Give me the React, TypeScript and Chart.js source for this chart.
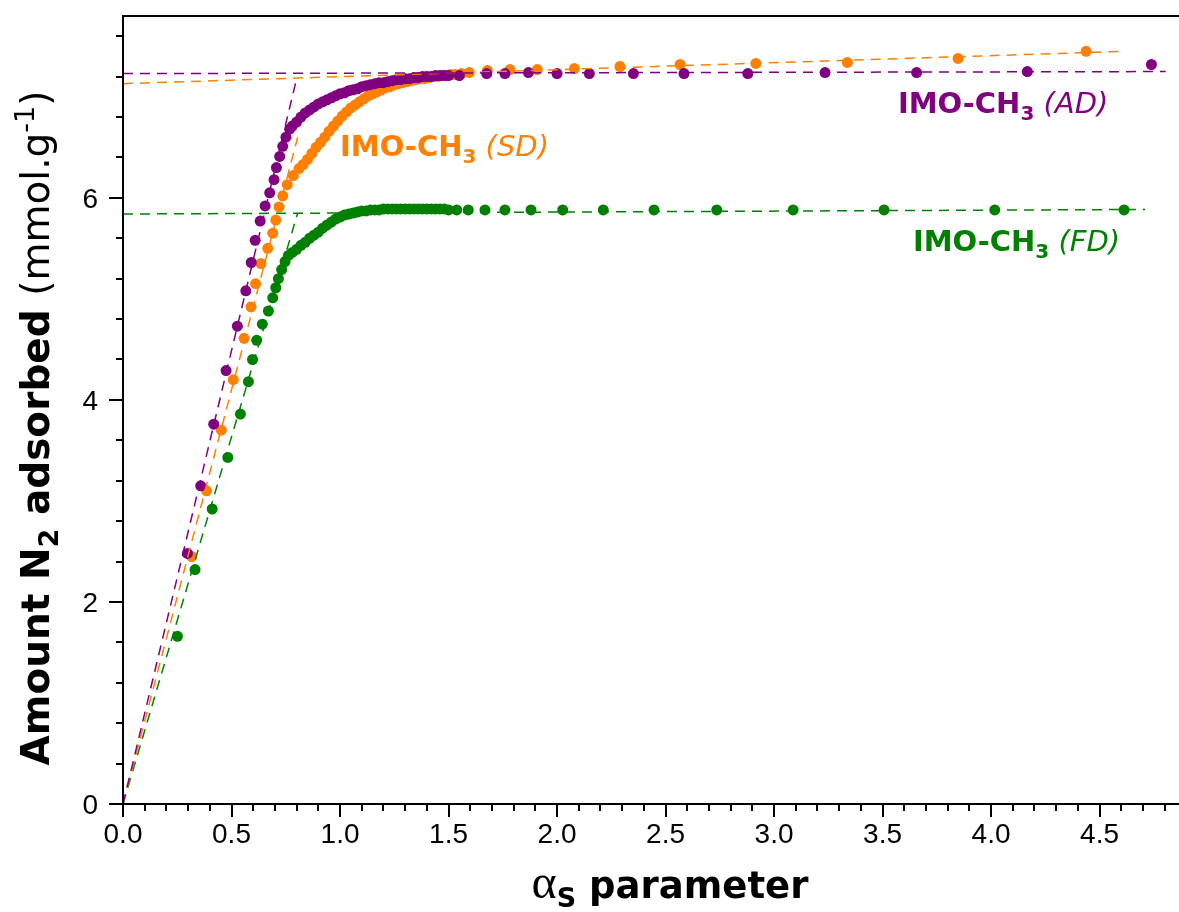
import React, { useEffect, useRef } from 'react';
import { Chart, registerables } from 'chart.js';

Chart.register(...registerables);

const PURPLE = '#800080';
const ORANGE = '#ff8000';
const GREEN = '#008000';

// IMO-CH3 (AD) – alpha_s plot points
const AD_X = [
  0.297, 0.358, 0.418, 0.475, 0.527, 0.566, 0.591, 0.609, 0.632, 0.655, 0.676, 0.696, 0.707, 0.722, 0.736, 0.751, 0.768,
  0.78, 0.80, 0.82, 0.84, 0.86, 0.88, 0.90, 0.92, 0.94, 0.96, 0.98, 1.00, 1.02, 1.04, 1.06, 1.08, 1.10, 1.12, 1.14, 1.16,
  1.18, 1.20, 1.22, 1.24, 1.26, 1.28, 1.30, 1.32, 1.34, 1.36, 1.38, 1.40, 1.42, 1.44, 1.46, 1.48, 1.50,
  1.55, 1.676, 1.76, 1.868, 2.00, 2.149, 2.352, 2.585, 2.879, 3.235, 3.657, 4.167, 4.739,
];
const AD_Y = [
  2.48, 3.15, 3.76, 4.29, 4.73, 5.08, 5.36, 5.58, 5.77, 5.92, 6.05, 6.18, 6.30, 6.41, 6.51, 6.60, 6.68,
  6.71, 6.75, 6.80, 6.84, 6.87, 6.90, 6.93, 6.95, 6.97, 6.99, 7.01, 7.03, 7.04, 7.06, 7.07, 7.08, 7.10, 7.11, 7.12, 7.13,
  7.14, 7.14, 7.15, 7.16, 7.17, 7.17, 7.18, 7.18, 7.19, 7.19, 7.20, 7.20, 7.20, 7.21, 7.21, 7.21, 7.21,
  7.21, 7.23, 7.23, 7.24, 7.23, 7.23, 7.23, 7.23, 7.23, 7.24, 7.24, 7.25, 7.32,
];

// IMO-CH3 (SD)
const SD_X = [
  0.317, 0.385, 0.453, 0.508, 0.558, 0.590, 0.611, 0.636, 0.667, 0.690, 0.704, 0.719, 0.736, 0.757, 0.785, 0.811,
  0.83, 0.85, 0.87, 0.89, 0.91, 0.93, 0.95, 0.97, 0.99, 1.01, 1.03, 1.05, 1.07, 1.09, 1.11, 1.13, 1.15, 1.17, 1.19,
  1.21, 1.23, 1.25, 1.27, 1.29, 1.31, 1.33, 1.35, 1.37, 1.39, 1.41, 1.43, 1.45, 1.47, 1.49, 1.51, 1.53, 1.56,
  1.596, 1.679, 1.783, 1.909, 2.08, 2.29, 2.567, 2.916, 3.338, 3.848, 4.438,
];
const SD_Y = [
  2.45, 3.10, 3.70, 4.20, 4.61, 4.92, 5.15, 5.35, 5.50, 5.65, 5.78, 5.91, 6.02, 6.13, 6.22, 6.29,
  6.33, 6.38, 6.44, 6.50, 6.55, 6.60, 6.66, 6.71, 6.76, 6.81, 6.85, 6.89, 6.92, 6.95, 6.98, 7.01, 7.03, 7.05, 7.07,
  7.09, 7.10, 7.12, 7.13, 7.14, 7.15, 7.16, 7.17, 7.18, 7.18, 7.19, 7.20, 7.20, 7.21, 7.21, 7.22, 7.22, 7.23,
  7.24, 7.26, 7.27, 7.27, 7.28, 7.30, 7.32, 7.33, 7.34, 7.38, 7.45,
];

// IMO-CH3 (FD)
const FD_X = [
  0.251, 0.332, 0.411, 0.483, 0.541, 0.578, 0.597, 0.616, 0.642, 0.670, 0.690, 0.704, 0.716, 0.731, 0.747, 0.762,
  0.78, 0.80, 0.82, 0.84, 0.86, 0.88, 0.90, 0.92, 0.94, 0.96, 0.98, 1.00, 1.02, 1.04, 1.06, 1.08, 1.10, 1.12, 1.14,
  1.16, 1.18, 1.20, 1.22, 1.24, 1.26, 1.28, 1.30, 1.32, 1.34, 1.36, 1.38, 1.40, 1.42, 1.44, 1.46, 1.48, 1.50,
  1.538, 1.591, 1.668, 1.760, 1.880, 2.026, 2.213, 2.447, 2.736, 3.088, 3.507, 4.017, 4.613,
];
const FD_Y = [
  1.66, 2.32, 2.92, 3.43, 3.86, 4.18, 4.40, 4.59, 4.75, 4.88, 5.01, 5.11, 5.20, 5.29, 5.37, 5.43,
  5.46, 5.49, 5.53, 5.56, 5.60, 5.63, 5.66, 5.70, 5.73, 5.76, 5.79, 5.81, 5.83, 5.84, 5.85, 5.86, 5.87, 5.87, 5.88,
  5.88, 5.88, 5.89, 5.89, 5.89, 5.89, 5.89, 5.89, 5.89, 5.89, 5.89, 5.89, 5.89, 5.89, 5.89, 5.89, 5.89, 5.88,
  5.88, 5.88, 5.88, 5.88, 5.88, 5.88, 5.88, 5.88, 5.88, 5.88, 5.88, 5.88, 5.88,
];

// Fitted lines (linear region through origin and plateau)
const AD_STEEP_X = [0, 0.80];
const AD_STEEP_Y = [0, 7.18];
const AD_FLAT_X = [0, 4.805];
const AD_FLAT_Y = [7.23, 7.25];
const SD_STEEP_X = [0, 0.805];
const SD_STEEP_Y = [0, 6.6];
const SD_FLAT_X = [0, 4.61];
const SD_FLAT_Y = [7.13, 7.45];
const FD_STEEP_X = [0, 0.805];
const FD_STEEP_Y = [0, 5.85];
const FD_FLAT_X = [0, 4.71];
const FD_FLAT_Y = [5.84, 5.885];

// Axis settings
const X_MIN = 0;
const X_MAX = 4.866;
const X_MAJOR = 0.5;
const X_MINOR = 0.1;
const Y_MIN = 0;
const Y_MAX = 7.8;
const Y_MAJOR = 2;
const Y_MINOR = 0.4;

// Series labels
const LABEL_NAMES = ['IMO-CH', 'IMO-CH', 'IMO-CH'];
const LABEL_SUBS = ['3', '3', '3'];
const LABEL_TAGS = ['(AD)', '(SD)', '(FD)'];
const LABEL_COLORS = [PURPLE, ORANGE, GREEN];
const LABEL_AT_X = [3.571, 1.0, 3.64];
const LABEL_AT_Y = [6.84, 6.41, 5.475];

const zip = (xs: number[], ys: number[]) => xs.map((x, i) => ({ x, y: ys[i] }));

type Seg = { t: string; font: string; dy?: number };

function segWidth(ctx: CanvasRenderingContext2D, segs: Seg[]) {
  let w = 0;
  for (const s of segs) {
    ctx.font = s.font;
    w += ctx.measureText(s.t).width;
  }
  return w;
}

function drawSegs(ctx: CanvasRenderingContext2D, segs: Seg[], x: number, y: number) {
  let cx = x;
  for (const s of segs) {
    ctx.font = s.font;
    ctx.fillText(s.t, cx, y + (s.dy || 0));
    cx += ctx.measureText(s.t).width;
  }
}

const TICK_FONT = '28px "Liberation Sans", Arial, sans-serif';

const framePlugin = {
  id: 'frame',
  afterDraw(chart: any) {
    const { ctx, chartArea: a, scales } = chart;
    const xs = scales.x;
    const ys = scales.y;
    ctx.save();
    ctx.strokeStyle = '#000';
    ctx.lineWidth = 2;
    ctx.lineCap = 'butt';
    ctx.beginPath();
    ctx.moveTo(a.left, a.top);
    ctx.lineTo(a.left, a.bottom + 1);
    ctx.moveTo(a.left - 1, a.bottom);
    ctx.lineTo(a.right, a.bottom);
    ctx.moveTo(a.left - 1, a.top);
    ctx.lineTo(a.right, a.top);
    ctx.stroke();

    // x ticks
    const nx = Math.floor((X_MAX - X_MIN) / X_MINOR + 1e-6);
    ctx.beginPath();
    for (let i = 0; i <= nx; i++) {
      const v = X_MIN + i * X_MINOR;
      const px = Math.round(xs.getPixelForValue(v));
      const major = i % Math.round(X_MAJOR / X_MINOR) === 0;
      ctx.moveTo(px, a.bottom);
      ctx.lineTo(px, a.bottom + (major ? 13 : 7));
    }
    // y ticks
    const ny = Math.floor((Y_MAX - Y_MIN) / Y_MINOR + 1e-6);
    for (let i = 0; i <= ny; i++) {
      const v = Y_MIN + i * Y_MINOR;
      const py = Math.round(ys.getPixelForValue(v));
      const major = i % Math.round(Y_MAJOR / Y_MINOR) === 0;
      ctx.moveTo(a.left, py);
      ctx.lineTo(a.left - (major ? 14 : 7), py);
    }
    ctx.stroke();

    // tick labels (from the scales' own ticks)
    ctx.fillStyle = '#000';
    ctx.font = TICK_FONT;
    ctx.textBaseline = 'alphabetic';
    ctx.textAlign = 'center';
    for (const t of xs.ticks) {
      ctx.fillText(Number(t.value).toFixed(1), xs.getPixelForValue(t.value), a.bottom + 39);
    }
    ctx.textAlign = 'right';
    for (const t of ys.ticks) {
      ctx.fillText(String(t.value), a.left - 25, ys.getPixelForValue(t.value) + 10);
    }

    // series labels
    ctx.textAlign = 'left';
    for (let i = 0; i < LABEL_NAMES.length; i++) {
      ctx.fillStyle = LABEL_COLORS[i];
      const segs: Seg[] = [
        { t: LABEL_NAMES[i], font: 'bold 29px "DejaVu Sans"' },
        { t: LABEL_SUBS[i], font: 'bold 20px "DejaVu Sans"', dy: 7 },
        { t: ' ' + LABEL_TAGS[i], font: 'italic 29px "DejaVu Sans"' },
      ];
      drawSegs(ctx, segs, xs.getPixelForValue(LABEL_AT_X[i]), ys.getPixelForValue(LABEL_AT_Y[i]));
    }

    // y title
    ctx.fillStyle = '#000';
    const ySegs: Seg[] = [
      { t: 'Amount N', font: 'bold 39px "DejaVu Sans"' },
      { t: '2', font: 'bold 27px "DejaVu Sans"', dy: 9 },
      { t: ' adsorbed ', font: 'bold 39px "DejaVu Sans"' },
      { t: '(mmol.g', font: '39px "DejaVu Sans"' },
      { t: '-1', font: '27px "DejaVu Sans"', dy: -15 },
      { t: ')', font: '39px "DejaVu Sans"' },
    ];
    const yw = segWidth(ctx, ySegs);
    ctx.save();
    ctx.translate(49, 428);
    ctx.rotate(-Math.PI / 2);
    drawSegs(ctx, ySegs, -yw / 2, 0);
    ctx.restore();

    // x title
    const xSegs: Seg[] = [
      { t: '\u03B1', font: '48px "Liberation Serif"' },
      { t: 'S', font: 'bold 27px "DejaVu Sans"', dy: 9 },
      { t: ' parameter', font: 'bold 37px "DejaVu Sans"' },
    ];
    const xw = segWidth(ctx, xSegs);
    drawSegs(ctx, xSegs, 670 - xw / 2, 898);
    ctx.restore();
  },
};

function fitLine(xs: number[], ys: number[], color: string) {
  return {
    data: zip(xs, ys),
    showLine: true,
    borderColor: color,
    borderWidth: 1.5,
    borderDash: [10, 7],
    pointRadius: 0,
    fill: false,
    tension: 0,
  };
}

function pointSet(xs: number[], ys: number[], color: string) {
  return {
    data: zip(xs, ys),
    showLine: false,
    pointRadius: 5.5,
    pointHoverRadius: 5.5,
    pointBackgroundColor: color,
    pointBorderWidth: 0,
    borderColor: color,
  };
}

export default function App() {
  const ref = useRef<HTMLCanvasElement | null>(null);
  useEffect(() => {
    document.body.style.margin = '0';
    const canvas = ref.current;
    if (!canvas) return;
    const chart = new Chart(canvas, {
      type: 'scatter',
      data: {
        datasets: [
          fitLine(AD_STEEP_X, AD_STEEP_Y, PURPLE),
          fitLine(AD_FLAT_X, AD_FLAT_Y, PURPLE),
          fitLine(SD_STEEP_X, SD_STEEP_Y, ORANGE),
          fitLine(SD_FLAT_X, SD_FLAT_Y, ORANGE),
          fitLine(FD_STEEP_X, FD_STEEP_Y, GREEN),
          fitLine(FD_FLAT_X, FD_FLAT_Y, GREEN),
          pointSet(AD_X, AD_Y, PURPLE),
          pointSet(SD_X, SD_Y, ORANGE),
          pointSet(FD_X, FD_Y, GREEN),
        ] as any,
      },
      options: {
        animation: false,
        responsive: false,
        maintainAspectRatio: false,
        devicePixelRatio: 1,
        layout: { autoPadding: false, padding: { top: 16, left: 0, right: 0, bottom: 0 } },
        plugins: { legend: { display: false }, tooltip: { enabled: false } },
        scales: {
          x: {
            type: 'linear',
            min: X_MIN,
            max: X_MAX,
            grid: { display: false, drawTicks: false },
            border: { display: false },
            ticks: { display: false, stepSize: X_MAJOR, includeBounds: false, autoSkip: false, maxRotation: 0 },
            afterFit: (s: any) => {
              s.height = 108;
            },
          },
          y: {
            type: 'linear',
            min: Y_MIN,
            max: Y_MAX,
            grid: { display: false, drawTicks: false },
            border: { display: false },
            ticks: { display: false, stepSize: Y_MAJOR, includeBounds: false },
            afterFit: (s: any) => {
              s.width = 123;
            },
          },
        },
      } as any,
      plugins: [framePlugin],
    });
    return () => chart.destroy();
  }, []);
  return (
    <div style={{ position: 'absolute', left: 0, top: 0, width: 1179, height: 912 }}>
      <canvas ref={ref} width={1179} height={912} style={{ display: 'block' }} />
    </div>
  );
}
